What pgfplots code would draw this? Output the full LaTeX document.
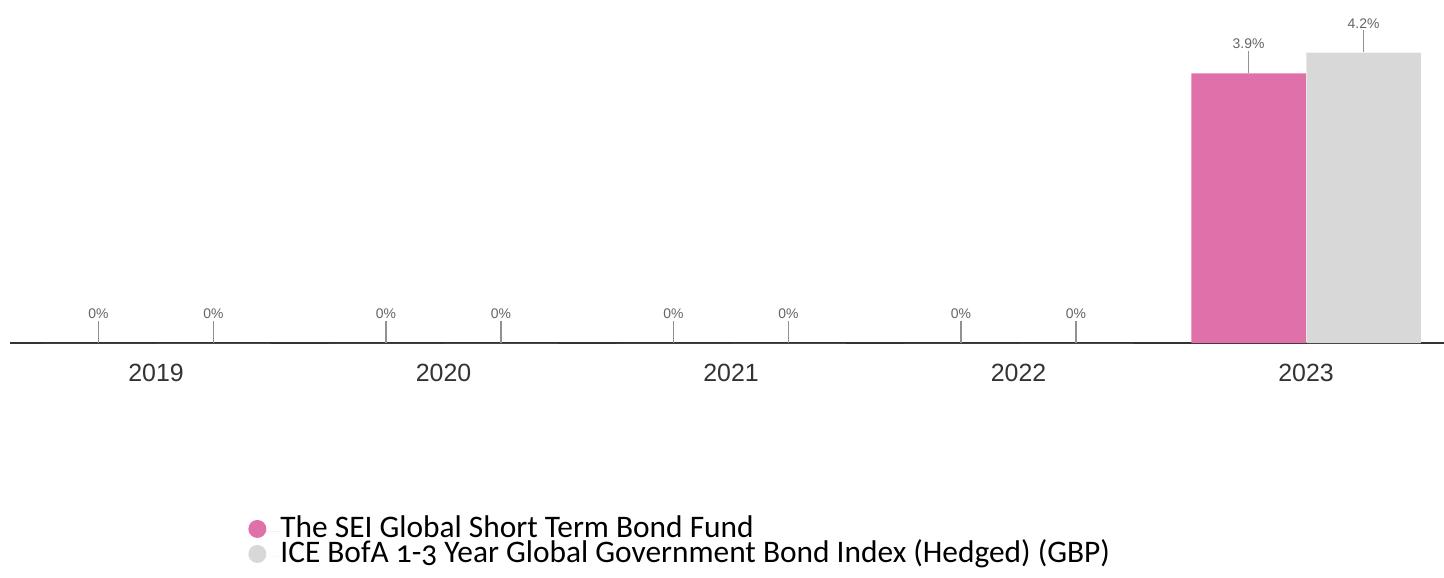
\documentclass[border=0pt]{standalone}
\usepackage{fontspec}
\setmainfont{Liberation Sans}
\newfontfamily\legendfont[Numbers=OldStyle]{Carlito}
\usepackage{pgfplots}
\pgfplotsset{compat=1.18}
\definecolor{pinkc}{RGB}{224,112,170}
\definecolor{grayc}{RGB}{216,216,216}
\definecolor{lblc}{RGB}{100,100,100}
\definecolor{stemc}{RGB}{145,145,145}
\definecolor{axisc}{RGB}{51,51,51}
\begin{document}
\begin{tikzpicture}
\path[use as bounding box] (0,0) rectangle (1444bp,-578bp);
\begin{axis}[
  at={(10bp,-343bp)}, anchor=south west,
  scale only axis, width=1434bp, height=343bp,
  xmin=-0.508, xmax=4.48, ymin=0, ymax=4.96,
  axis x line*=bottom, axis y line=none,
  x axis line style={-, line width=2bp, color=axisc},
  xtick={0,1,2,3,4}, xticklabels={2019,2020,2021,2022,2023},
  major tick length=0pt,
  xticklabel style={font=\fontsize{25}{25}\selectfont, text=axisc, yshift=-18bp},
  ytick=\empty,
  ybar, bar width=0.398,
  nodes near coords={\pgfmathprintnumber[assume math mode=true]{\pgfplotspointmeta}\%\\[1bp]{\color{stemc}\rule{1.5bp}{22bp}}},
  every node near coord/.append style={align=center, anchor=south, inner sep=0pt, font=\fontsize{14}{15}\selectfont, text=lblc},
  legend style={at={(0.164,-0.508)}, anchor=north west, draw=none, fill=none,
    font=\legendfont\fontsize{31.5}{32}\selectfont, row sep=0bp, column sep=0bp,
    nodes={inner sep=0pt, text height=18bp, text depth=7bp}},
  legend cell align=left,
]
\addplot[fill=pinkc, draw=none, bar shift=-0.2,
  legend image code/.code={\path (-9bp,0) -- (23bp,0); \fill[pinkc] (0bp,3bp) circle (9bp);}]
  coordinates {(0,0) (1,0) (2,0) (3,0) (4,3.9)};
\addlegendentry{The SEI Global Short Term Bond Fund}
\addplot[fill=grayc, draw=none, bar shift=0.2,
  legend image code/.code={\path (-9bp,0) -- (23bp,0); \fill[grayc] (0bp,3bp) circle (9bp);}]
  coordinates {(0,0) (1,0) (2,0) (3,0) (4,4.2)};
\addlegendentry{ICE BofA 1-3 Year Global Government Bond Index (Hedged) (GBP)}
\end{axis}
\end{tikzpicture}
\end{document}
